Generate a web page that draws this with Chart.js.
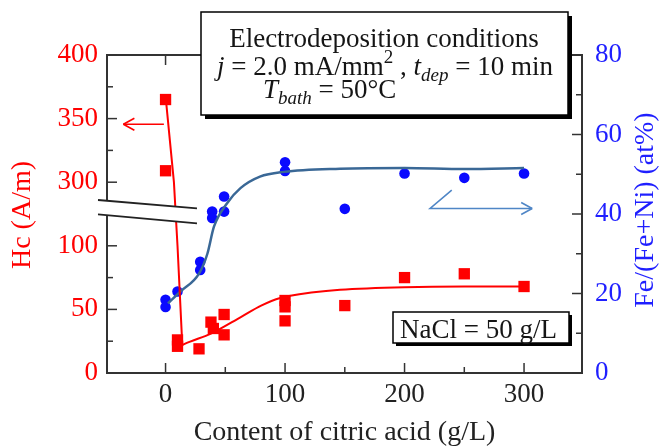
<!DOCTYPE html>
<html><head><meta charset="utf-8">
<script src="https://cdn.jsdelivr.net/npm/chart.js@4"></script>
<style>html,body{margin:0;padding:0;background:#fff}#wrap{width:661px;height:446px}</style>
</head><body><div id="wrap"><canvas id="c" width="661" height="446"></canvas></div>
<script>
// ---------- data ----------
const hcX = [0, 0, 10, 10, 28, 38, 40, 49, 49, 100, 100, 100, 150, 200, 250, 300];
const hcY = [365, 309, 26, 21, 19, 40, 35, 46, 30, 57, 52, 41, 53, 75, 78, 68];
const feX = [0, 0, 10, 29, 29, 39, 39, 49, 49, 100, 100, 150, 200, 250, 300];
const feY = [18.4, 16.6, 20.5, 28.0, 25.9, 40.6, 39.0, 44.4, 40.6, 53.0, 50.8, 41.3, 50.2, 49.1, 50.2];
const hcSteepX = [0.5, 7, 10, 14];
const hcSteepY = [363, 300, 100, 22];
const hcCurveX = [14, 20, 38, 63, 80, 96, 124, 146, 200, 250, 300];
const hcCurveY = [22, 24.5, 31, 44, 53, 59, 63.5, 65.5, 67.5, 68, 68];
const feFitX = [2, 12.5, 28, 35, 40.5, 51.5, 62.7, 79, 99, 146, 200, 250, 300];
const feFitY = [17.5, 20.5, 25, 30, 36.8, 42.7, 46.5, 49.4, 50.6, 51.4, 51.6, 51.3, 51.6];
const xTicks = [0, 100, 200, 300];
const xMinor = [50, 150, 250];
const hcTicks = [0, 50, 100, 300, 350, 400];
const hcMinor = [25, 75, 325, 375];
const feTicks = [0, 20, 40, 60, 80];
const feMinor = [10, 30, 50, 70];

// broken Hc axis: 300..400 displayed right above 100 (shift 150)
const BREAK_LO = 100, BREAK_HI = 300, BREAK_SHIFT = 150;
function toDisp(v){ return v >= BREAK_HI ? v - BREAK_SHIFT : v; }
function fromDisp(d){ return d > BREAK_LO ? d + BREAK_SHIFT : d; }

const SERIF = '"Liberation Serif","Times New Roman",serif';
const RED = '#ff0000', BLUE = '#0a0aff', FIT_BLUE = '#3a6896', ARROW_BLUE = '#4f86c6';
const pts = (xs, ys, f) => xs.map((v, i) => ({x: v, y: f ? f(ys[i]) : ys[i]}));

function richText(ctx, segs, x, y, size, measureOnly){
  let cx = x;
  for (const s of segs){
    const sz = (s.sub || s.sup) ? Math.round(size * 0.7) : size;
    ctx.font = (s.it ? 'italic ' : '') + sz + 'px ' + SERIF;
    const dy = s.sub ? size * 0.22 : (s.sup ? -size * 0.45 : 0);
    if (!measureOnly) ctx.fillText(s.t, cx, y + dy);
    cx += ctx.measureText(s.t).width;
  }
  return cx - x;
}

const decor = {
  id: 'decor',
  afterDatasetsDraw(chart){
    const {ctx, chartArea: a, scales: {x, yL, yR}} = chart;
    ctx.save();
    ctx.strokeStyle = '#333'; ctx.lineWidth = 2;
    ctx.strokeRect(a.left, a.top, a.right - a.left, a.bottom - a.top);
    const seg = (x1, y1, x2, y2) => { ctx.beginPath(); ctx.moveTo(x1, y1); ctx.lineTo(x2, y2); ctx.stroke(); };
    ctx.lineWidth = 1.5;
    xTicks.forEach(v => { const p = x.getPixelForValue(v); seg(p, a.bottom, p, a.bottom - 10); seg(p, a.top, p, a.top + 10); });
    xMinor.forEach(v => { const p = x.getPixelForValue(v); seg(p, a.bottom, p, a.bottom - 6); seg(p, a.top, p, a.top + 6); });
    hcTicks.forEach(v => { const p = yL.getPixelForValue(toDisp(v)); seg(a.left, p, a.left + 10, p); });
    hcMinor.forEach(v => { const p = yL.getPixelForValue(toDisp(v)); seg(a.left, p, a.left + 6, p); });
    feTicks.forEach(v => { const p = yR.getPixelForValue(v); seg(a.right, p, a.right - 10, p); });
    feMinor.forEach(v => { const p = yR.getPixelForValue(v); seg(a.right, p, a.right - 6, p); });

    // axis break
    const base = yL.getPixelForValue(125);
    const bx1 = a.left - 9, bx2 = a.left + 90;
    ctx.fillStyle = '#fff';
    ctx.beginPath();
    ctx.moveTo(bx1, base - 14); ctx.lineTo(bx2, base - 5.7); ctx.lineTo(bx2, base + 9.3); ctx.lineTo(bx1, base + 0.3);
    ctx.closePath(); ctx.fill();
    ctx.strokeStyle = '#222'; ctx.lineWidth = 1.8;
    seg(bx1, base - 14, bx2, base - 5.7);
    seg(bx1, base + 0.3, bx2, base + 9.3);

    // red arrow -> left axis
    ctx.strokeStyle = RED; ctx.lineWidth = 1.6;
    const ay = yL.getPixelForValue(toDisp(345.5));
    const ax1 = x.getPixelForValue(-1.4), ax2 = x.getPixelForValue(-35.3);
    seg(ax1, ay, ax2, ay); seg(ax2, ay, ax2 + 11, ay - 6); seg(ax2, ay, ax2 + 11, ay + 6);

    // blue arrow -> right axis
    ctx.strokeStyle = ARROW_BLUE; ctx.lineWidth = 1.6;
    const p1x = x.getPixelForValue(239.5), p1y = yR.getPixelForValue(46.0);
    const p2x = x.getPixelForValue(221.4), p2y = yR.getPixelForValue(41.4);
    const p3x = x.getPixelForValue(306.8);
    ctx.beginPath(); ctx.moveTo(p1x, p1y); ctx.lineTo(p2x, p2y); ctx.lineTo(p3x, p2y); ctx.stroke();
    seg(p3x, p2y, p3x - 11, p2y - 6); seg(p3x, p2y, p3x - 11, p2y + 6);
    ctx.restore();
  },
  afterDraw(chart){
    const {ctx, chartArea: a} = chart;
    ctx.save();
    // conditions box
    ctx.fillStyle = '#000'; ctx.fillRect(205, 16, 367, 103);
    ctx.fillStyle = '#fff'; ctx.fillRect(201, 12, 367, 103);
    ctx.strokeStyle = '#000'; ctx.lineWidth = 1.5; ctx.strokeRect(201, 12, 367, 103);
    ctx.fillStyle = '#151515'; ctx.textBaseline = 'alphabetic'; ctx.textAlign = 'left';
    const line1 = [{t: 'Electrodeposition conditions'}];
    const line2 = [{t: 'j', it: true}, {t: ' = 2.0 mA/mm'}, {t: '2', sup: true}, {t: ' , '}, {t: 't', it: true}, {t: 'dep', it: true, sub: true}, {t: ' = 10 min'}];
    const line3 = [{t: 'T', it: true}, {t: 'bath', it: true, sub: true}, {t: ' = 50°C'}];
    let w = richText(ctx, line1, 0, 0, 27, true);
    richText(ctx, line1, 384 - w / 2, 47, 27);
    w = richText(ctx, line2, 0, 0, 27, true);
    richText(ctx, line2, 385 - w / 2, 75, 27);
    richText(ctx, line3, 263, 98, 27);

    // NaCl box
    ctx.fillStyle = '#000'; ctx.fillRect(396, 315, 176, 31);
    ctx.fillStyle = '#fff'; ctx.fillRect(393, 312, 176, 31);
    ctx.strokeStyle = '#000'; ctx.lineWidth = 1.5; ctx.strokeRect(393, 312, 176, 31);
    ctx.fillStyle = '#151515';
    richText(ctx, [{t: 'NaCl = 50 g/L'}], 400, 338, 27);

    // axis titles
    ctx.font = '28px ' + SERIF; ctx.textAlign = 'center'; ctx.textBaseline = 'middle';
    ctx.fillStyle = RED;
    ctx.save(); ctx.translate(23, 215); ctx.rotate(-Math.PI / 2); ctx.fillText('Hc (A/m)', 0, 0); ctx.restore();
    ctx.fillStyle = '#1f1fff';
    ctx.save(); ctx.translate(646, 210); ctx.rotate(-Math.PI / 2); ctx.fillText('Fe/(Fe+Ni) (at%)', 0, 0); ctx.restore();
    ctx.fillStyle = '#222'; ctx.textBaseline = 'alphabetic';
    ctx.fillText('Content of citric acid (g/L)', (a.left + a.right) / 2, 440);
    ctx.restore();
  }
};

new Chart(document.getElementById('c'), {
  type: 'scatter',
  data: {
    datasets: [
      {label: 'Hc fit (drop)', data: pts(hcSteepX, hcSteepY, toDisp), yAxisID: 'yL', showLine: true, tension: 0,
       borderColor: RED, borderWidth: 2, pointRadius: 0, order: 1},
      {label: 'Hc fit', data: pts(hcCurveX, hcCurveY, toDisp), yAxisID: 'yL', showLine: true, cubicInterpolationMode: 'monotone',
       borderColor: RED, borderWidth: 2, pointRadius: 0, order: 1},
      {label: 'Hc', data: pts(hcX, hcY, toDisp), yAxisID: 'yL', pointStyle: 'rect', pointRadius: 8,
       pointBackgroundColor: RED, pointBorderWidth: 0, backgroundColor: RED, borderColor: RED, order: 3},
      {label: 'Fe', data: pts(feX, feY), yAxisID: 'yR', pointStyle: 'circle', pointRadius: 5.3,
       pointBackgroundColor: BLUE, pointBorderWidth: 0, backgroundColor: BLUE, borderColor: BLUE, order: 3},
      {label: 'Fe fit', data: pts(feFitX, feFitY), yAxisID: 'yR', showLine: true, cubicInterpolationMode: 'monotone',
       borderColor: FIT_BLUE, borderWidth: 2.5, pointRadius: 0, order: 1}
    ]
  },
  options: {
    responsive: false, animation: false, devicePixelRatio: 1,
    layout: {padding: {top: 55, left: 0, right: 0, bottom: 0}},
    plugins: {legend: {display: false}, tooltip: {enabled: false}},
    scales: {
      x: {type: 'linear', min: -49, max: 348.5,
          grid: {display: false, drawTicks: false}, border: {display: false},
          afterBuildTicks: s => { s.ticks = xTicks.map(v => ({value: v})); },
          afterFit: s => { s.height = 73; },
          ticks: {color: '#222', font: {family: SERIF, size: 27}, padding: 6, maxRotation: 0, autoSkip: false}},
      yL: {type: 'linear', position: 'left', min: 0, max: 250,
           grid: {display: false, drawTicks: false}, border: {display: false},
           afterBuildTicks: s => { s.ticks = hcTicks.map(v => ({value: toDisp(v)})); },
           afterFit: s => { s.width = 107; },
           ticks: {color: RED, font: {family: SERIF, size: 27}, padding: 9, autoSkip: false,
                   callback: v => String(fromDisp(v))}},
      yR: {type: 'linear', position: 'right', min: 0, max: 80,
           grid: {display: false, drawTicks: false}, border: {display: false},
           afterBuildTicks: s => { s.ticks = feTicks.map(v => ({value: v})); },
           afterFit: s => { s.width = 79; },
           ticks: {color: '#1f1fff', font: {family: SERIF, size: 27}, padding: 13, autoSkip: false}}
    }
  },
  plugins: [decor]
});
</script></body></html>
